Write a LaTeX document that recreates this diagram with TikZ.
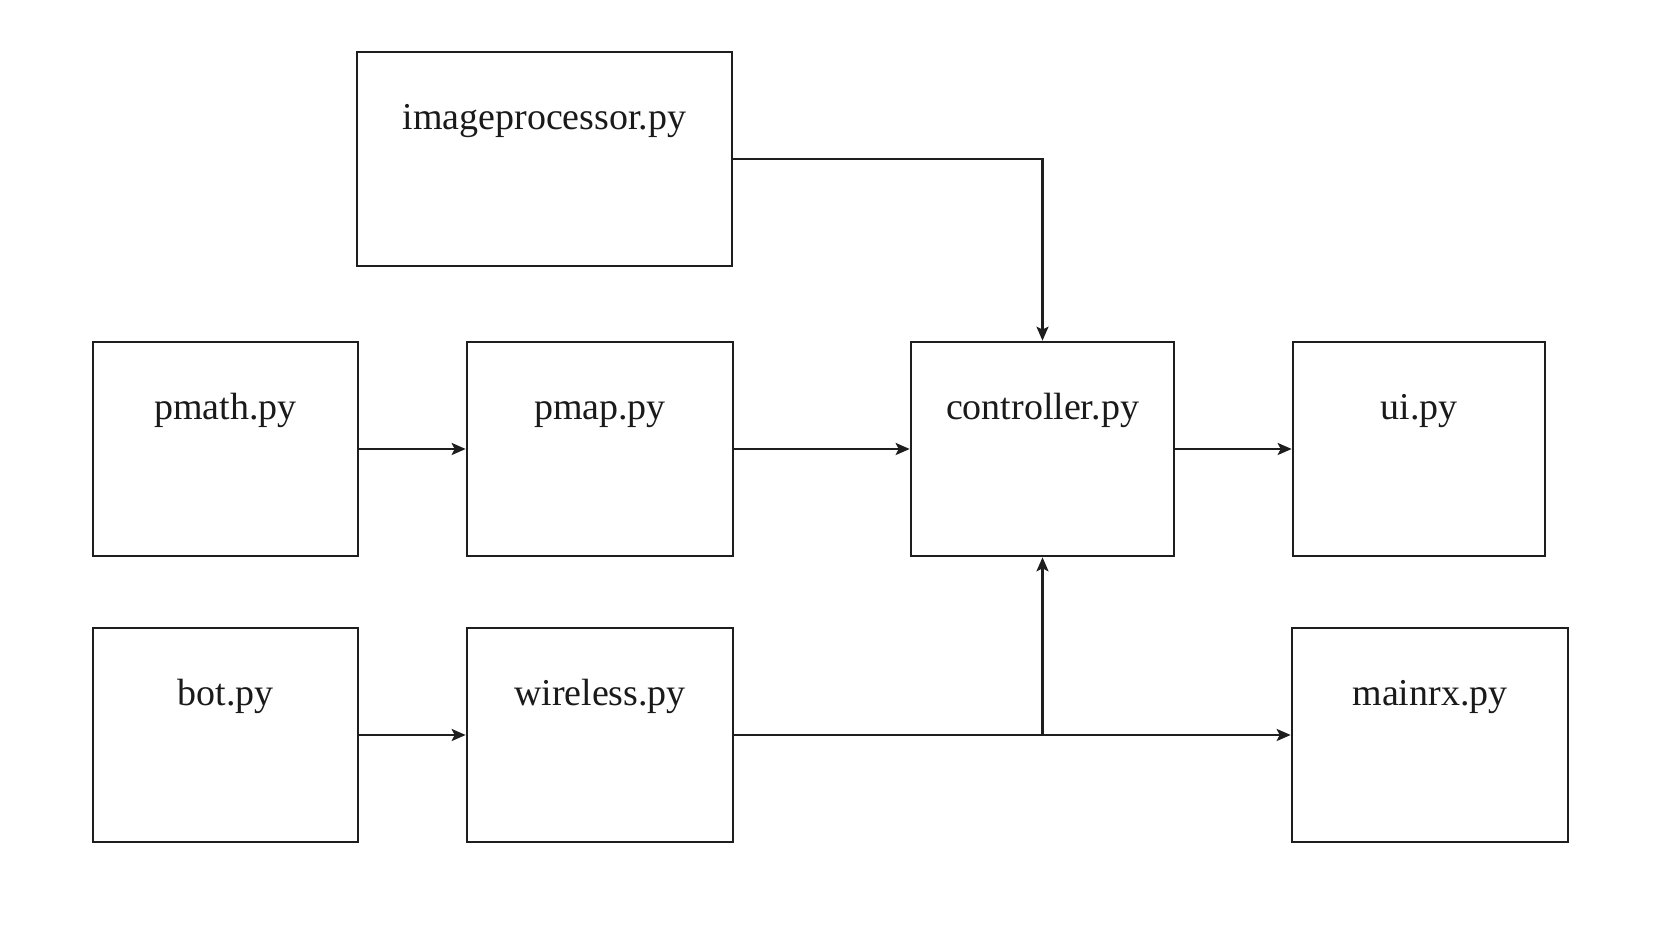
\documentclass[tikz,border=0pt]{standalone}
\usepackage{fontspec}
\setmainfont{Liberation Serif}
\usepackage{tikz}
\usetikzlibrary{arrows.meta, positioning}
\definecolor{boxline}{HTML}{1E1E1E}
\definecolor{textdark}{HTML}{1A1A1A}

\begin{document}
\begin{tikzpicture}[
    every node/.style={font=\fontsize{10.8}{13}\selectfont, text=textdark},
    module/.style={rectangle, draw=boxline, line width=0.75pt, fill=white, inner sep=0pt, text height=0.78cm, text depth=1.36cm, align=center},
    arrow/.style={line width=0.7pt, -{Stealth[length=1.4mm, width=1.2mm, inset=0.3mm]}, color=boxline}
]
\useasboundingbox (0,0) rectangle (16.70,-9.36);

% Nodes
\node[module, minimum width=3.75cm] (imgproc) at (5.445,-1.59) {imageprocessor.py};

\node[module, minimum width=2.65cm] (pmath) at (2.255,-4.49) {pmath.py};
\node[module, minimum width=2.66cm] (pmap) at (6.00,-4.49) {pmap.py};
\node[module, minimum width=2.63cm] (ctrl) at (10.425,-4.49) {controller.py};
\node[module, minimum width=2.52cm] (ui) at (14.19,-4.49) {ui.py};

\node[module, minimum width=2.65cm] (bot) at (2.255,-7.35) {bot.py};
\node[module, minimum width=2.66cm] (wireless) at (6.00,-7.35) {wireless.py};
\node[module, minimum width=2.76cm] (mainrx) at (14.30,-7.35) {mainrx.py};

% Arrows
\draw[arrow] (imgproc.east) -| (ctrl.north);
\draw[arrow] (pmath) -- (pmap);
\draw[arrow] (pmap) -- (ctrl);
\draw[arrow] (ctrl) -- (ui);
\draw[arrow] (bot) -- (wireless);
\draw[arrow] (wireless) -- (mainrx);

% Branch up to controller
\coordinate (split) at (ctrl.south |- wireless.east);
\draw[arrow] (split) -- (ctrl.south);

\end{tikzpicture}
\end{document}
